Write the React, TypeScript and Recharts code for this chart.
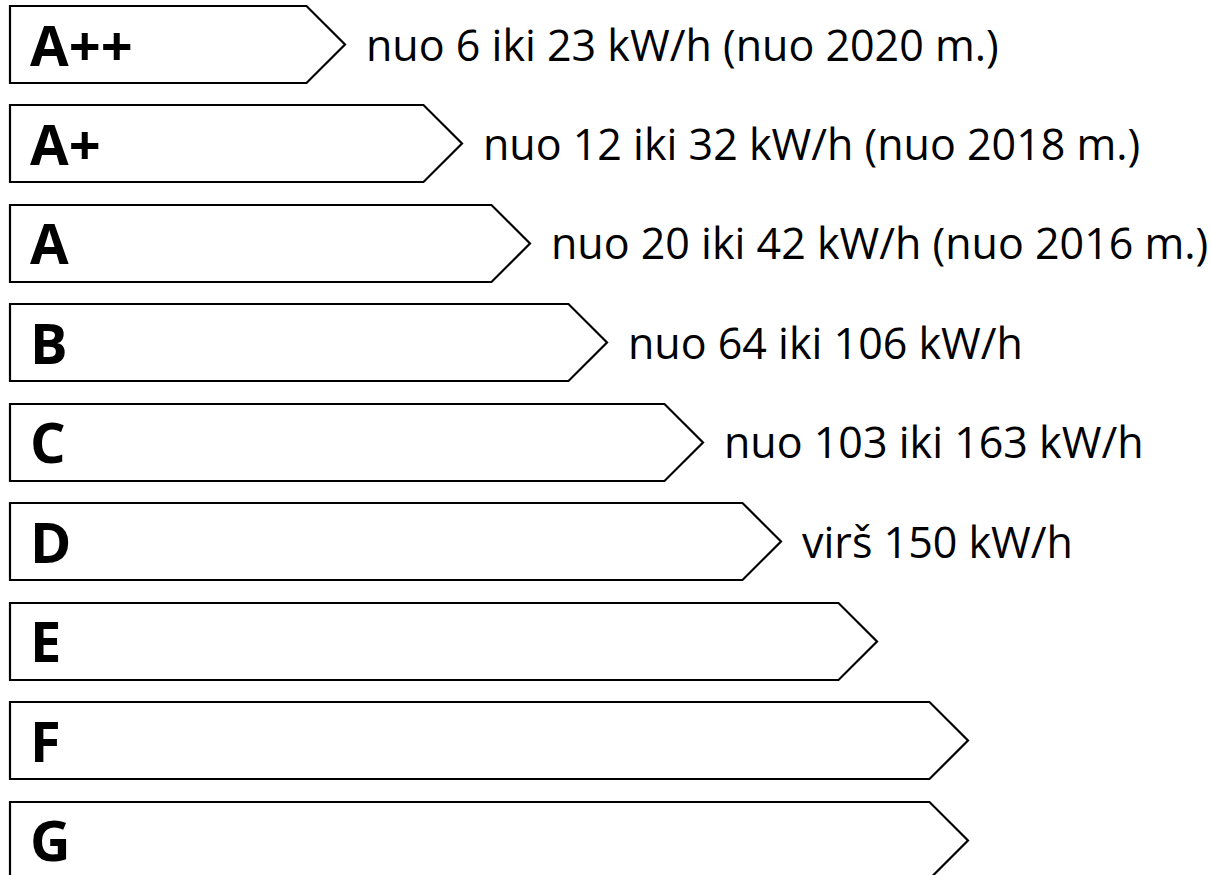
import { BarChart, Bar, XAxis, YAxis, LabelList } from "recharts"

const grades = ["A++", "A+", "A", "B", "C", "D", "E", "F", "G"]
const lengths = [335, 452, 520, 597, 693, 771, 867, 958, 958]
const notes = [
  "nuo 6 iki 23 kW/h (nuo 2020 m.)",
  "nuo 12 iki 32 kW/h (nuo 2018 m.)",
  "nuo 20 iki 42 kW/h (nuo 2016 m.)",
  "nuo 64 iki 106 kW/h",
  "nuo 103 iki 163 kW/h",
  "virš 150 kW/h",
  "",
  "",
  "",
]

const data = grades.map((grade, i) => ({ grade, value: lengths[i], note: notes[i] }))

const FONT = "'Open Sans', 'Noto Sans', sans-serif"

function ArrowShape(props: any) {
  const x = Math.round(props.x)
  const y = Math.round(props.y)
  const w = Math.round(props.width)
  const h = Math.round(props.height)
  const tip = h / 2
  const d = `M${x},${y} L${x + w - tip},${y} L${x + w},${y + tip} L${x + w - tip},${y + h} L${x},${y + h} Z`
  return <path d={d} fill="#fff" stroke="#000" strokeWidth={2.2} strokeLinejoin="miter" />
}

function renderGrade(props: any) {
  const { x, y, height, value } = props
  return (
    <text x={x + 20} y={y + height / 2 + 21} fontFamily={FONT} fontWeight={700} fontSize={56} fill="#000">
      {value}
    </text>
  )
}

function renderNote(props: any) {
  const { x, y, width, height, value } = props
  if (!value) return null
  return (
    <text x={x + width + 21} y={y + height / 2 + 16} fontFamily={FONT} fontSize={43} fill="#000">
      {value}
    </text>
  )
}

export default function App() {
  return (
    <div style={{ position: "absolute", left: 0, top: 0, width: 1211, height: 875, overflow: "hidden", background: "#fff" }}>
      <div style={{ marginTop: -5 }}>
        <BarChart
          width={1211}
          height={895}
          data={data}
          layout="vertical"
          margin={{ top: 0, right: 201, bottom: 0, left: 10 }}
        >
          <XAxis type="number" domain={[0, 1000]} hide />
          <YAxis type="category" dataKey="grade" hide />
          <Bar dataKey="value" barSize={77} shape={ArrowShape} isAnimationActive={false}>
            <LabelList dataKey="grade" content={renderGrade} />
            <LabelList dataKey="note" content={renderNote} />
          </Bar>
        </BarChart>
      </div>
    </div>
  )
}
